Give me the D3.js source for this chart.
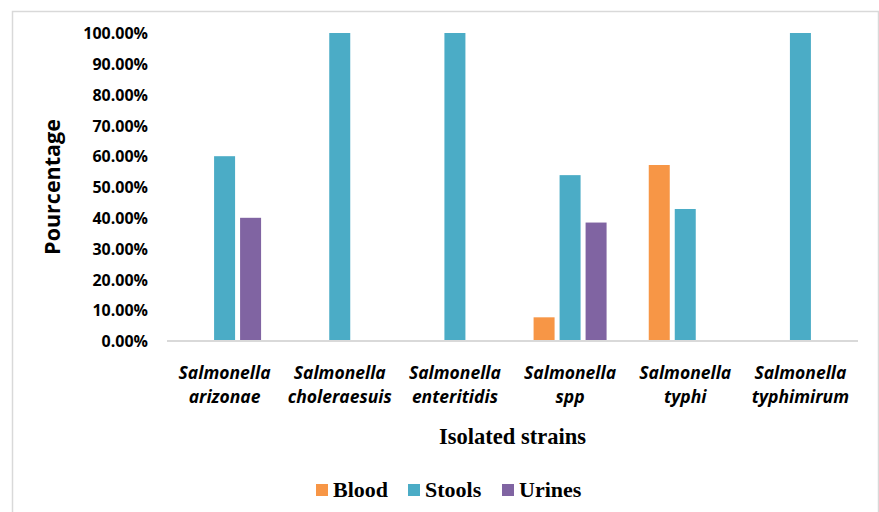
<!DOCTYPE html>
<html><head><meta charset="utf-8">
<script src="https://cdn.jsdelivr.net/npm/d3@7"></script>
<style>html,body{margin:0;padding:0;background:#fff;}svg{display:block;}</style>
</head><body>
<svg id="chart" width="879" height="512"></svg>
<script>
const categories = [
  ["Salmonella", "arizonae"],
  ["Salmonella", "choleraesuis"],
  ["Salmonella", "enteritidis"],
  ["Salmonella", "spp"],
  ["Salmonella", "typhi"],
  ["Salmonella", "typhimirum"]
];
const seriesNames = ["Blood", "Stools", "Urines"];
const blood  = [0, 0, 0, 7.69, 57.14, 0];
const stools = [60, 100, 100, 53.85, 42.86, 100];
const urines = [40, 0, 0, 38.46, 0, 0];
const yTicks = [0, 10, 20, 30, 40, 50, 60, 70, 80, 90, 100];
const colors = ["#F79646", "#4BACC6", "#8064A2"];

const seriesValues = [blood, stools, urines];
const svg = d3.select("#chart");

// outer chart border
svg.append("rect").attr("x", 12.5).attr("y", 11.5).attr("width", 866).attr("height", 520)
  .attr("fill", "none").attr("stroke", "#d9d9d9").attr("stroke-width", 1.5);

const plot = {left: 167, right: 858, top: 33, bottom: 341};
const catKeys = categories.map((c, i) => i);
const x0 = d3.scaleBand().domain(catKeys).range([plot.left, plot.right]).padding(0);
const x1 = d3.scaleBand().domain(seriesNames).range([0, 73]).paddingInner(5 / 26).paddingOuter(0);
const y = d3.scaleLinear().domain([0, 100]).range([plot.bottom, plot.top]);

// bars
seriesNames.forEach((s, si) => {
  const vals = seriesValues[si];
  svg.append("g").selectAll("rect")
    .data(catKeys.filter(i => vals[i] > 0))
    .join("rect")
    .attr("x", i => x0(i) + x0.bandwidth() / 2 - 36.5 + x1(s))
    .attr("y", i => y(vals[i]))
    .attr("width", x1.bandwidth())
    .attr("height", i => y(0) - y(vals[i]))
    .attr("fill", colors[si]);
});

// baseline
svg.append("line").attr("x1", plot.left).attr("x2", plot.right)
  .attr("y1", y(0)).attr("y2", y(0)).attr("stroke", "#d9d9d9").attr("stroke-width", 2);

// y axis labels
const yAxis = d3.axisLeft(y).tickValues(yTicks).tickSize(0).tickPadding(0)
  .tickFormat(d => d.toFixed(2) + "%");
const yg = svg.append("g").attr("transform", `translate(148,0)`).call(yAxis);
yg.select(".domain").remove();
yg.selectAll("text").attr("font-family", "'Open Sans', sans-serif").attr("font-weight", "bold")
  .attr("font-size", 16).attr("fill", "#000").attr("dy", "0.35em");

// y title
svg.append("text").attr("transform", `translate(60,${(plot.top + plot.bottom) / 2}) rotate(-90)`)
  .attr("text-anchor", "middle").attr("font-family", "'Open Sans', sans-serif")
  .attr("font-weight", "bold").attr("font-size", 21.5).attr("fill", "#000").text("Pourcentage");

// x category labels
const xl = svg.append("g").selectAll("text").data(catKeys).join("text")
  .attr("x", i => x0(i) + x0.bandwidth() / 2)
  .attr("y", 379)
  .attr("text-anchor", "middle")
  .attr("font-family", "'Open Sans', sans-serif").attr("font-weight", "bold")
  .attr("font-style", "italic").attr("font-size", 17.5).attr("fill", "#000");
xl.append("tspan").attr("x", i => x0(i) + x0.bandwidth() / 2).text(i => categories[i][0]);
xl.append("tspan").attr("x", i => x0(i) + x0.bandwidth() / 2).attr("dy", 24).text(i => categories[i][1]);

// x title
svg.append("text").attr("x", (plot.left + plot.right) / 2).attr("y", 444)
  .attr("text-anchor", "middle").attr("font-family", "'Liberation Serif', 'Times New Roman', serif")
  .attr("font-weight", "bold").attr("font-size", 22.5).attr("fill", "#000").text("Isolated strains");

// legend
const legendX = [316, 408, 502];
const lg = svg.append("g");
seriesNames.forEach((s, si) => {
  lg.append("rect").attr("x", legendX[si]).attr("y", 484).attr("width", 12).attr("height", 12).attr("fill", colors[si]);
  lg.append("text").attr("x", legendX[si] + 17).attr("y", 497)
    .attr("font-family", "'Liberation Serif', 'Times New Roman', serif")
    .attr("font-weight", "bold").attr("font-size", 22).attr("fill", "#000").text(s);
});
</script>
</body></html>
